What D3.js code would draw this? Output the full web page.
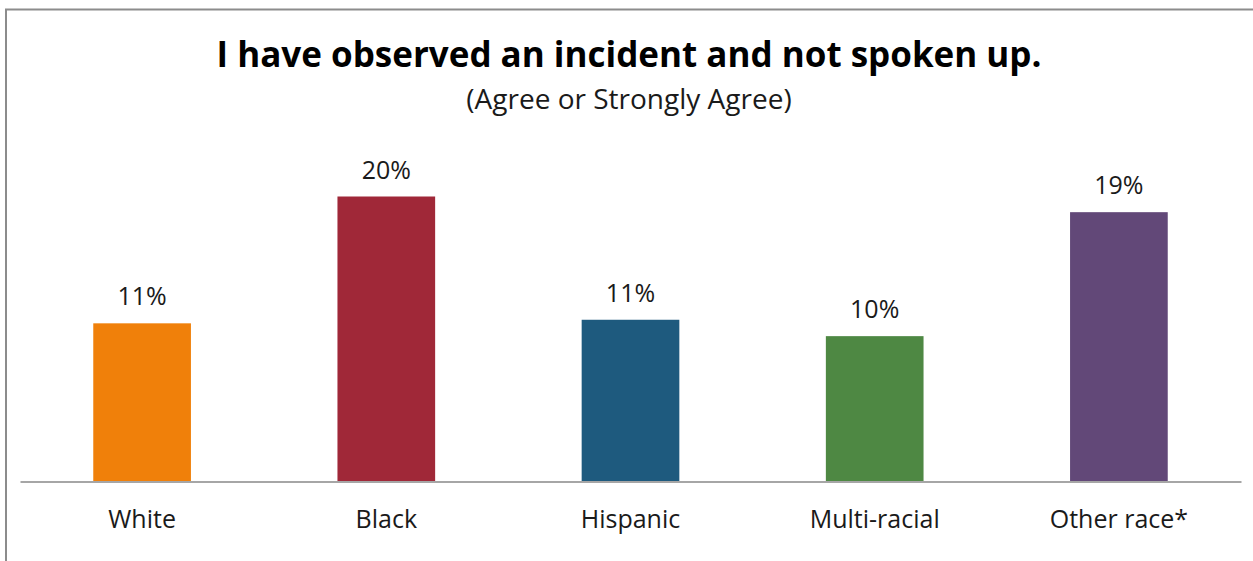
<!DOCTYPE html>
<html><head><meta charset="utf-8">
<script src="https://cdn.jsdelivr.net/npm/d3@7"></script>
<style>html,body{margin:0;padding:0;background:#fff;overflow:hidden}</style>
</head><body>
<svg id="c" width="1253" height="561"></svg>
<script>
const categories = ["White", "Black", "Hispanic", "Multi-racial", "Other race*"];
const values = [11.1, 20.0, 11.35, 10.2, 18.9];
const labels = ["11%", "20%", "11%", "10%", "19%"];
const colors = ["#F0800A", "#A02838", "#1E5A7E", "#4E8843", "#624878"];
const title = "I have observed an incident and not spoken up.";
const subtitle = "(Agree or Strongly Agree)";

const svg = d3.select("#c");
const font = "'Segoe UI','Open Sans','Noto Sans',sans-serif";

// outer border
svg.append("rect").attr("x", 6).attr("y", 9.5).attr("width", 1300).attr("height", 600)
  .attr("fill", "none").attr("stroke", "#8c8c8c").attr("stroke-width", 2);

const x = d3.scaleBand().domain(categories).range([20, 1241]).paddingInner(0.6).paddingOuter(0.3);
const baseY = 481.5;
const y = d3.scaleLinear().domain([0, 25]).range([baseY, baseY - 25 * 14.25]);

svg.append("g").selectAll("rect").data(categories).join("rect")
  .attr("x", d => x(d)).attr("width", x.bandwidth())
  .attr("y", (d, i) => y(values[i])).attr("height", (d, i) => baseY - y(values[i]))
  .attr("fill", (d, i) => colors[i]);

svg.append("g").selectAll("text").data(categories).join("text")
  .attr("x", d => x(d) + x.bandwidth() / 2)
  .attr("y", (d, i) => y(values[i]) - 18)
  .attr("text-anchor", "middle").attr("font-family", font).attr("font-size", 25).attr("fill", "#1a1a1a")
  .text((d, i) => labels[i]);

const ax = svg.append("g").attr("transform", `translate(0,${baseY})`)
  .call(d3.axisBottom(x).tickSize(0).tickPadding(29));
ax.select(".domain").attr("stroke", "#a6a6a6").attr("stroke-width", 2);
ax.selectAll("text").attr("font-family", font).attr("font-size", 25).attr("fill", "#1a1a1a");

svg.append("text").attr("x", 629).attr("y", 67).attr("text-anchor", "middle")
  .attr("font-family", font).attr("font-weight", "bold").attr("font-size", 35).attr("fill", "#000")
  .text(title);
svg.append("text").attr("x", 629).attr("y", 109).attr("text-anchor", "middle")
  .attr("font-family", font).attr("font-size", 28).attr("fill", "#1a1a1a")
  .text(subtitle);
</script>
</body></html>
